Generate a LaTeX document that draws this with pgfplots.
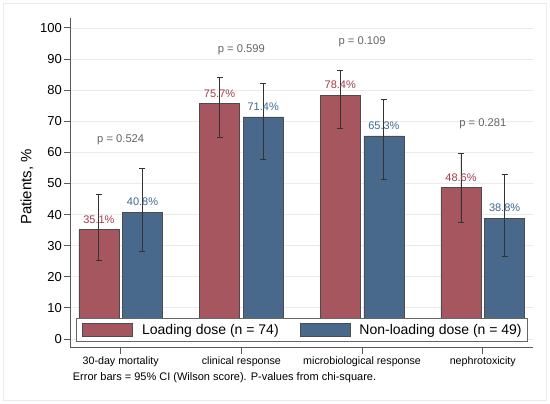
\documentclass[border=0pt]{standalone}
\usepackage{fontspec}
\setmainfont{Liberation Sans}
\usepackage{pgfplots}
\usepackage{pgfplotstable}
\pgfplotsset{compat=1.18}
\definecolor{barred}{RGB}{166,86,94}
\definecolor{barblue}{RGB}{72,105,139}
\definecolor{txtred}{RGB}{163,60,74}
\definecolor{txtblue}{RGB}{62,102,142}
\definecolor{ptxt}{RGB}{100,100,100}
\pgfplotstableread{
x y ep em lab
0 35.1 11.4 9.9  35.1
1 75.7 8.3  10.9 75.7
2 78.4 7.8  10.7 78.4
3 48.6 11.2 11.0 48.6
}\loading
\pgfplotstableread{
x y ep em lab
0 40.8 14.0 12.6 40.8
1 71.4 10.8 13.8 71.4
2 65.3 11.8 14.0 65.3
3 38.8 14.0 12.4 38.8
}\nonloading
\pgfplotsset{
  mylegend/.style={legend image code/.code={\draw[##1] (0pt,-6.6pt) rectangle (50pt,6.6pt);}},
}
\begin{document}
\begin{tikzpicture}[x=1pt,y=1pt]
\useasboundingbox (0,0) rectangle (550,404);
\draw[black!8] (3,4) rectangle (546,401);
\begin{axis}[
  at={(70pt,56.3pt)}, anchor=south west,
  scale only axis, width=463pt, height=329.7pt,
  xmin=-0.42, xmax=3.416, ymin=-2.8, ymax=103.2,
  axis lines*=left,
  ytick={0,10,...,100},
  xtick={0,1,2,3},
  xticklabels={30-day mortality, clinical response, microbiological response, nephrotoxicity},
  tick align=outside, major tick length=6pt,
  ymajorgrids, grid style={black!8, line width=0.8pt},
  axis line style={black!65, line width=0.9pt},
  tick style={black!65, line width=0.9pt},
  /pgf/number format/assume math mode=true,
  yticklabel style={font=\fontsize{13}{14}\selectfont, inner sep=2pt},
  xticklabel style={font=\fontsize{10.7}{12}\selectfont},
  ybar, bar width=40pt,
  point meta=explicit symbolic,
  nodes near coords={\pgfplotspointmeta\%},
  nodes near coords style={anchor=base, yshift=6.5pt, inner sep=0pt, font=\fontsize{11}{12}\selectfont},
  error bars/y dir=both, error bars/y explicit,
  error bars/error bar style={black!80, line width=0.8pt},
  error bars/error mark options={rotate=90, mark size=3pt, line width=0.8pt, black!80},
  legend columns=2,
  legend style={at={(axis description cs:0.013,0.0173)}, anchor=south west,
    draw=black!60, fill=white, line width=0.8pt,
    font=\fontsize{14}{16}\selectfont,
    inner xsep=6pt, inner ysep=4pt,
    nodes={inner xsep=0pt, inner ysep=2pt},
    /tikz/every odd column/.append style={column sep=9pt},
    /tikz/every even column/.append style={column sep=21pt}},
]
\addplot+[mylegend, bar shift=-21.8pt, fill=barred, draw=black!70, line width=0.7pt,
  every node near coord/.append style={text=txtred}]
  table[x=x, y=y, y error plus=ep, y error minus=em, meta=lab] {\loading};
\addplot+[mylegend, bar shift=21.8pt, fill=barblue, draw=black!70, line width=0.7pt,
  every node near coord/.append style={text=txtblue}]
  table[x=x, y=y, y error plus=ep, y error minus=em, meta=lab] {\nonloading};
\legend{Loading dose (n = 74), Non-loading dose (n = 49)}
\node[font=\fontsize{11.2}{12}\selectfont, text=ptxt] at (axis cs:0,64) {p = 0.524};
\node[font=\fontsize{11.2}{12}\selectfont, text=ptxt] at (axis cs:1,93.1) {p = 0.599};
\node[font=\fontsize{11.2}{12}\selectfont, text=ptxt] at (axis cs:2,95.5) {p = 0.109};
\node[font=\fontsize{11.2}{12}\selectfont, text=ptxt] at (axis cs:3,69.1) {p = 0.281};
\end{axis}
\node[rotate=90, font=\fontsize{15}{16}\selectfont] at (27,217) {Patients, \%};
\node[anchor=west, inner sep=0pt, font=\fontsize{11}{12}\selectfont] at (72.7,26) {Error bars = 95\% CI (Wilson score). P-values from chi-square.};
\end{tikzpicture}
\end{document}
